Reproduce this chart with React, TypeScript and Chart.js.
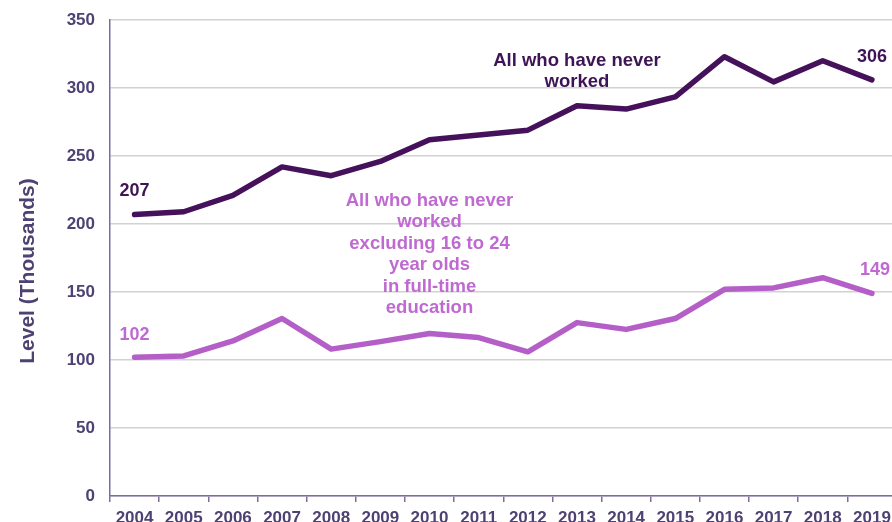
import React, { useEffect, useRef } from "react";
import { Chart, registerables } from "chart.js";

Chart.register(...registerables);

const years = ["2004","2005","2006","2007","2008","2009","2010","2011","2012","2013","2014","2015","2016","2017","2018","2019"];
const allNeverWorked = [207, 209, 221, 242, 235.5, 246, 262, 265.5, 269, 287, 284.5, 293.5, 323, 304.5, 320, 306];
const excludingStudents = [102, 103, 114, 130.5, 108, 113.5, 119.5, 116.5, 106, 127.5, 122.5, 130.5, 152, 153, 160.5, 149];
const yTicks = [0, 50, 100, 150, 200, 250, 300, 350];
const yTitle = "Level (Thousands)";
const darkLabel = ["All who have never", "worked"];
const lightLabel = ["All who have never", "worked", "excluding 16 to 24", "year olds", "in full-time", "education"];

const DARK = "#45115a";
const LIGHT = "#b45fc7";
const DARK_TEXT = "#3e1456";
const LIGHT_TEXT = "#bf6ad0";
const AXIS_TEXT = "#4d4272";
const AXIS_LINE = "#7d6c9c";
const FONT = "'Liberation Sans', Arial, sans-serif";

const annotationPlugin = {
  id: "annotations",
  afterDatasetsDraw(chart: any) {
    const ctx = chart.ctx;
    const x = chart.scales.x;
    const y = chart.scales.y;
    ctx.save();
    // y-axis title
    ctx.save();
    ctx.translate(28, 271);
    ctx.rotate(-Math.PI / 2);
    ctx.font = `bold 21px ${FONT}`;
    ctx.fillStyle = AXIS_TEXT;
    ctx.textAlign = "center";
    ctx.textBaseline = "middle";
    ctx.fillText(yTitle, 0, 0);
    ctx.restore();

    ctx.textAlign = "center";
    ctx.textBaseline = "middle";
    ctx.font = `bold 18px ${FONT}`;
    const last = years.length - 1;
    // end value labels
    ctx.fillStyle = DARK_TEXT;
    ctx.fillText(String(allNeverWorked[0]), x.getPixelForValue(0), y.getPixelForValue(allNeverWorked[0]) - 23);
    ctx.fillText(String(allNeverWorked[last]), x.getPixelForValue(last), y.getPixelForValue(allNeverWorked[last]) - 23);
    ctx.fillStyle = LIGHT_TEXT;
    ctx.fillText(String(excludingStudents[0]), x.getPixelForValue(0), y.getPixelForValue(excludingStudents[0]) - 22);
    ctx.fillText(String(excludingStudents[last]), x.getPixelForValue(last) + 3, y.getPixelForValue(excludingStudents[last]) - 23);

    // series labels
    ctx.font = `bold 18.5px ${FONT}`;
    ctx.fillStyle = DARK_TEXT;
    const dx = x.getPixelForValue(9);
    const dy = y.getPixelForValue(320);
    darkLabel.forEach((t, i) => ctx.fillText(t, dx, dy + i * 21.5));
    ctx.fillStyle = LIGHT_TEXT;
    const lx = x.getPixelForValue(6);
    const ly = y.getPixelForValue(217);
    lightLabel.forEach((t, i) => ctx.fillText(t, lx, ly + i * 21.5));
    ctx.restore();
  },
};

export default function App() {
  const ref = useRef<HTMLCanvasElement>(null);
  useEffect(() => {
    document.body.style.margin = "0";
    const chart = new Chart(ref.current!, {
      type: "line",
      data: {
        labels: years,
        datasets: [
          {
            label: "All who have never worked",
            data: allNeverWorked,
            borderColor: DARK,
            borderWidth: 5.5,
            pointRadius: 0,
            borderJoinStyle: "round",
            borderCapStyle: "round",
            tension: 0,
          },
          {
            label: "All who have never worked excluding 16 to 24 year olds in full-time education",
            data: excludingStudents,
            borderColor: LIGHT,
            borderWidth: 5.5,
            pointRadius: 0,
            borderJoinStyle: "round",
            borderCapStyle: "round",
            tension: 0,
          },
        ],
      },
      options: {
        animation: false,
        responsive: false,
        maintainAspectRatio: false,
        layout: { padding: { top: 20, right: 3.5, left: 0, bottom: 0 } },
        plugins: { legend: { display: false }, tooltip: { enabled: false }, title: { display: false } },
        scales: {
          x: {
            type: "category",
            offset: true,
            grid: { offset: true, drawOnChartArea: false, drawTicks: true, tickLength: 6, color: AXIS_LINE, lineWidth: 1.5 },
            border: { display: true, color: AXIS_LINE, width: 1.5 },
            ticks: { color: AXIS_TEXT, font: { family: FONT, size: 17, weight: "bold" }, padding: 6, maxRotation: 0, autoSkip: false },
            afterFit: (s: any) => { s.height = 44; s.paddingLeft = 0; s.paddingRight = 0; },
          },
          y: {
            min: 0,
            max: 350,
            afterBuildTicks: (s: any) => { s.ticks = yTicks.map((v) => ({ value: v })); },
            grid: { drawTicks: false, color: "#d2d2d2", lineWidth: 1.5 },
            border: { display: true, color: AXIS_LINE, width: 1.5 },
            ticks: { color: AXIS_TEXT, font: { family: FONT, size: 17, weight: "bold" }, padding: 15 },
            afterFit: (s: any) => { s.width = 110; s.paddingTop = 0; s.paddingBottom = 0; },
          },
        },
      },
      plugins: [annotationPlugin],
    });
    return () => chart.destroy();
  }, []);
  return (
    <div style={{ position: "fixed", left: 0, top: 0, width: 892, height: 522, overflow: "hidden", background: "#fff" }}>
      <canvas ref={ref} width={900} height={540} style={{ display: "block" }} />
    </div>
  );
}
